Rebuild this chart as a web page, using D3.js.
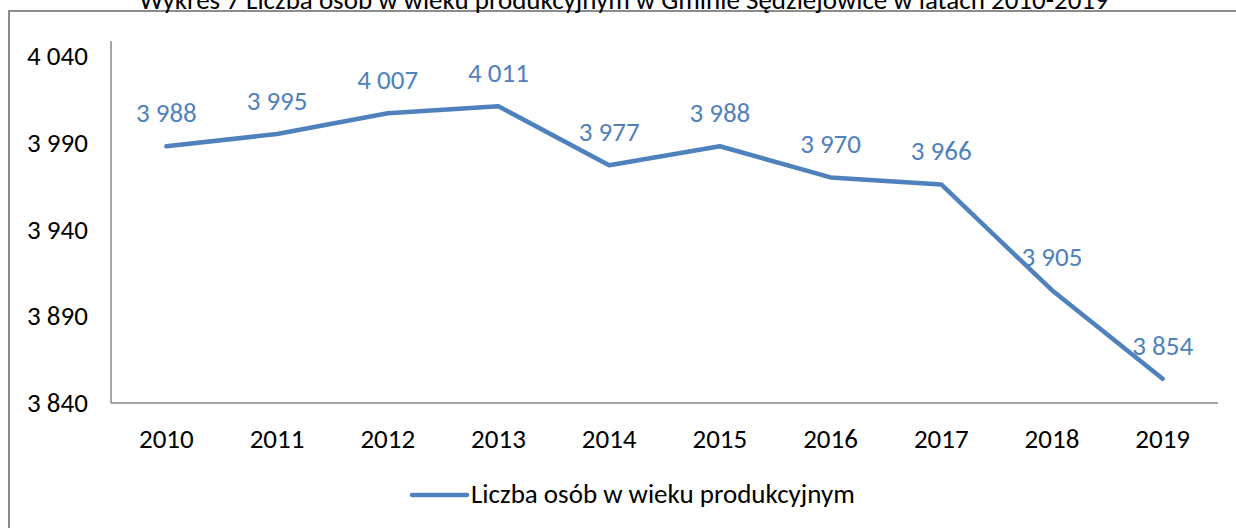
<!DOCTYPE html>
<html>
<head>
<meta charset="utf-8">
<script src="https://cdn.jsdelivr.net/npm/d3@7"></script>
<style>
  body { margin: 0; background: #fff; }
  svg text { font-family: Carlito, Lato, sans-serif; }
</style>
</head>
<body>
<div id="chart"></div>
<script>
// data
var years = ["2010", "2011", "2012", "2013", "2014", "2015", "2016", "2017", "2018", "2019"];
var people = [3988, 3995, 4007, 4011, 3977, 3988, 3970, 3966, 3905, 3854];
var yTicks = [3840, 3890, 3940, 3990, 4040];
var seriesName = "Liczba osób w wieku produkcyjnym";
var title = "Wykres 7 Liczba osób w wieku produkcyjnym w Gminie Sędziejowice w latach 2010-2019";

var W = 1236, H = 528;
var margin = { top: 41, right: 18, bottom: 125, left: 111 };
var width = W - margin.left - margin.right,
    height = H - margin.top - margin.bottom;
var fs = 27;

var svg = d3.select("#chart").append("svg")
    .attr("width", W)
    .attr("height", H);

// outer frame (only top and left edges fall inside the picture)
svg.append("rect")
    .attr("x", 9)
    .attr("y", 11)
    .attr("width", W + 20)
    .attr("height", H + 20)
    .attr("fill", "none")
    .attr("stroke", "#8c8c8c")
    .attr("stroke-width", 2);

// title, cropped at the top like the source
svg.append("text")
    .attr("x", 624)
    .attr("y", 9)
    .attr("text-anchor", "middle")
    .attr("font-size", fs)
    .attr("fill", "#000")
    .text(title);

var g = svg.append("g")
    .attr("transform", "translate(" + margin.left + "," + margin.top + ")");

var x = d3.scaleBand()
    .domain(years)
    .range([0, width]);

// 4040 sits at y=56, 3840 at y=403
var y = d3.scaleLinear()
    .domain([3840, 4040])
    .range([height, 56 - margin.top]);

var fmt = function (d) { return d3.format(",")(d).replace(",", " "); };

// axes
var xAxis = g.append("g")
    .attr("transform", "translate(0," + height + ")")
    .call(d3.axisBottom(x).tickSize(0).tickPadding(26));

var yAxis = g.append("g")
    .call(d3.axisLeft(y).tickValues(yTicks).tickSize(0).tickFormat(fmt));

yAxis.select(".domain").attr("d", "M0,0V" + height);
xAxis.select(".domain").attr("d", "M0,0H" + width);

g.selectAll(".domain")
    .attr("stroke", "#868686")
    .attr("stroke-width", 1.5);

g.selectAll(".tick text")
    .attr("font-size", fs)
    .attr("fill", "#000");

yAxis.selectAll(".tick text").attr("text-anchor", "start").attr("x", -84);

// line
var line = d3.line()
    .x(function (d, i) { return x(years[i]) + x.bandwidth() / 2; })
    .y(function (d) { return y(d); });

g.append("path")
    .datum(people)
    .attr("fill", "none")
    .attr("stroke", "#4f81bd")
    .attr("stroke-width", 4.5)
    .attr("stroke-linecap", "round")
    .attr("stroke-linejoin", "round")
    .attr("d", line);

// data labels
g.selectAll(".lbl")
    .data(people)
    .enter().append("text")
    .attr("class", "lbl")
    .attr("x", function (d, i) { return x(years[i]) + x.bandwidth() / 2; })
    .attr("y", function (d) { return y(d) - 24; })
    .attr("text-anchor", "middle")
    .attr("font-size", fs)
    .attr("fill", "#4f81bd")
    .text(fmt);

// legend
var legend = svg.append("g")
    .attr("transform", "translate(412,495)");

legend.append("line")
    .attr("x1", 0).attr("x2", 55)
    .attr("y1", 0).attr("y2", 0)
    .attr("stroke", "#4f81bd")
    .attr("stroke-width", 4.5)
    .attr("stroke-linecap", "round");

legend.append("text")
    .attr("x", 59)
    .attr("y", 8)
    .attr("font-size", fs)
    .attr("fill", "#000")
    .text(seriesName);
</script>
</body>
</html>
